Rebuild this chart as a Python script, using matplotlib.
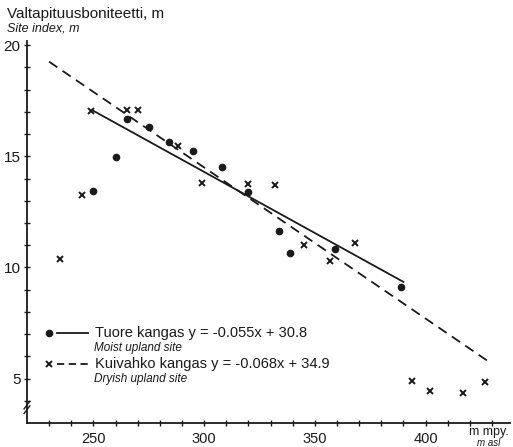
import numpy as np
import matplotlib
matplotlib.use("Agg")
import matplotlib.pyplot as plt

plt.rcParams["font.family"] = ["Liberation Sans", "DejaVu Sans"]

# Tuore kangas (moist upland site) - dots
moist_alt = [250, 260, 265, 275, 284, 295, 308, 320, 334, 339, 359, 389]
moist_si = [13.45, 14.98, 16.68, 16.32, 15.65, 15.25, 14.53, 13.4, 11.66, 10.63, 10.85, 9.1]

# Kuivahko kangas (dryish upland site) - crosses
dry_alt = [235, 245, 249, 265, 270, 288, 299, 320, 332, 345, 357, 368, 394, 402, 417, 427]
dry_si = [10.4, 13.27, 17.04, 17.09, 17.09, 15.47, 13.8, 13.77, 13.72, 11.03, 10.31, 11.08,
          4.89, 4.44, 4.35, 4.84]

# regression lines (slope, intercept, x range)
moist_fit = (-0.055, 30.8, 250, 390)
dry_fit = (-0.068, 34.9, 230, 430)

x_ticks = [250, 300, 350, 400]
y_ticks = [5, 10, 15, 20]

ink = "#1a1a1a"

fig = plt.figure(figsize=(5.13, 4.47), dpi=100)
ax = fig.add_axes([0.0526, 0.0537, 0.941, 0.855])

ax.plot(moist_alt, moist_si, "o", color=ink, ms=4.5, zorder=3)
ax.plot(dry_alt, dry_si, "x", color=ink, ms=5, mew=1.4, zorder=3)

for slope, icpt, x0, x1, ls in [(*moist_fit, "-"), (*dry_fit, "--")]:
    xx = np.array([x0, x1])
    line, = ax.plot(xx, slope * xx + icpt, color=ink, lw=1.3, ls=ls)
    if ls == "--":
        line.set_dashes((5.5, 3.5))

ax.set_xlim(220, 438)
ax.set_ylim(3.0, 20.2)

for s in ["top", "right"]:
    ax.spines[s].set_visible(False)
for s in ["left", "bottom"]:
    ax.spines[s].set_linewidth(1.3)
    ax.spines[s].set_color(ink)

ax.set_xticks(x_ticks)
ax.set_xticks(np.arange(230, 431, 10), minor=True)
ax.set_yticks(y_ticks)
ax.set_yticks(np.arange(4, 21, 1), minor=True)
ax.tick_params(which="both", direction="inout", length=5, width=1.0, color=ink,
               labelcolor=ink, pad=2)
ax.tick_params(axis="y", labelsize=11)
ax.tick_params(axis="x", labelsize=10.5, pad=4)

# axis break on the y axis
for dy in (0.0, 0.012):
    ax.plot([-0.006, 0.006], [0.025 + dy, 0.045 + dy], color=ink, lw=1.0,
            transform=ax.transAxes, clip_on=False)

# axis titles
fig.text(0.014, 0.968, "Valtapituusboniteetti, m", fontsize=11, color=ink, va="center")
fig.text(0.014, 0.937, "Site index, m", fontsize=9, style="italic", color=ink, va="center")
fig.text(0.952, 0.034, "m mpy.", fontsize=9, color=ink, ha="center", va="center")
fig.text(0.952, 0.010, "m asl", fontsize=7, style="italic", color=ink, ha="center", va="center")

# legend drawn by hand
fig.add_artist(plt.Line2D([0.095], [0.256], marker="o", ms=4.5, color=ink, lw=0))
fig.add_artist(plt.Line2D([0.111, 0.172], [0.255, 0.255], color=ink, lw=1.3))
fig.text(0.186, 0.255, "Tuore kangas y = -0.055x + 30.8", fontsize=10.5, color=ink, va="center")
fig.text(0.184, 0.221, "Moist upland site", fontsize=8.5, style="italic", color=ink, va="center")

fig.add_artist(plt.Line2D([0.095], [0.186], marker="x", ms=5, mew=1.4, color=ink, lw=0))
dl = plt.Line2D([0.111, 0.172], [0.186, 0.186], color=ink, lw=1.3)
dl.set_dashes((4, 2.5))
fig.add_artist(dl)
fig.text(0.186, 0.186, "Kuivahko kangas y = -0.068x + 34.9", fontsize=10.5, color=ink, va="center")
fig.text(0.184, 0.152, "Dryish upland site", fontsize=8.5, style="italic", color=ink, va="center")

fig.savefig("out.png", dpi=100)
